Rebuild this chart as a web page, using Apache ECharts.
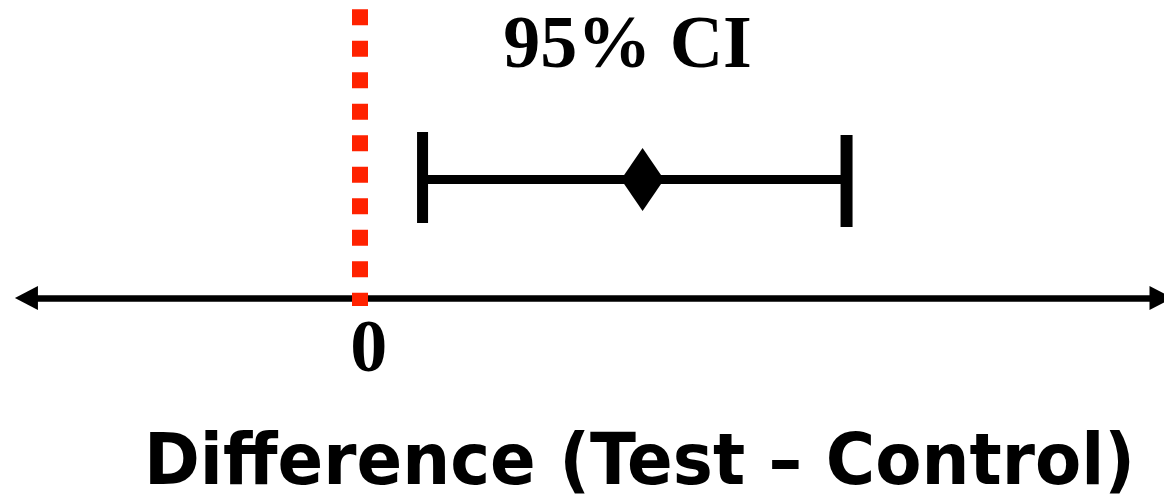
<!DOCTYPE html>
<html>
<head>
<meta charset="utf-8">
<script src="https://cdn.jsdelivr.net/npm/echarts@6/dist/echarts.min.js"></script>
<style>
html,body{margin:0;padding:0;background:#ffffff;}
#chart{width:1164px;height:501px;}
</style>
</head>
<body>
<div id="chart"></div>
<script>
// ---- chart data ----
const titleText = '95% CI';
const axisTitle = 'Difference (Test – Control)';
const ciLower = [0.71];
const pointEstimate = [3.18];
const ciUpper = [5.47];
const rowLevel = [1];
const nullValue = [0];
const xTickValues = [0];
const xTickLabels = ['0'];
const axisExtent = [-3.737, 9.0];
const refLineExtent = [2.436, -0.0675];

const chart = echarts.init(document.getElementById('chart'), null, {renderer: 'canvas'});

const errorData = ciLower.map((lo, i) => [lo, pointEstimate[i], ciUpper[i], rowLevel[i]]);
const pointData = pointEstimate.map((v, i) => [v, rowLevel[i]]);

const option = {
  backgroundColor: '#ffffff',
  animation: false,
  tooltip: {show: false},
  grid: {left: 0, right: 0.5, top: 1.75, bottom: 84.5, containLabel: false},
  xAxis: {
    type: 'value', min: -4, max: 9, interval: 1,
    axisLine: {show: false, onZero: false},
    axisTick: {show: false},
    splitLine: {show: false},
    axisLabel: {
      formatter: function (v) {
        const k = xTickValues.indexOf(v);
        return k >= 0 ? xTickLabels[k] : '';
      },
      margin: -64.5,
      verticalAlign: 'middle',
      padding: [0, 0, 0, 19],
      fontFamily: '"Liberation Serif", "Times New Roman", serif',
      fontWeight: 'bold',
      fontSize: 74,
      color: '#000000'
    }
  },
  yAxis: {type: 'value', min: -1, max: 2.5, show: false},
  graphic: [
    {
      type: 'text', x: 627.5, y: 48, silent: true,
      style: {
        text: titleText, align: 'center', verticalAlign: 'middle',
        font: 'bold 74px "Liberation Serif", "Times New Roman", serif', fill: '#000000'
      }
    },
    {
      type: 'text', x: 639.5, y: 465, scaleX: 0.936, silent: true,
      style: {
        text: axisTitle, align: 'center', verticalAlign: 'middle',
        font: 'bold 72px "DejaVu Sans", Verdana, sans-serif', fill: '#000000'
      }
    }
  ],
  series: [
    {
      type: 'custom',
      silent: true,
      z: 3,
      renderItem: function (params, api) {
        const y = api.value(3);
        const lo = api.coord([api.value(0), y]);
        const hi = api.coord([api.value(2), y]);
        return {
          type: 'group',
          children: [
            {type: 'line', shape: {x1: lo[0], y1: lo[1], x2: hi[0], y2: hi[1]},
             style: {stroke: '#000000', lineWidth: 9}},
            {type: 'line', shape: {x1: lo[0], y1: lo[1] - 47.5, x2: lo[0], y2: lo[1] + 43.5},
             style: {stroke: '#000000', lineWidth: 11}},
            {type: 'line', shape: {x1: hi[0], y1: hi[1] - 44.5, x2: hi[0], y2: hi[1] + 47.5},
             style: {stroke: '#000000', lineWidth: 12}}
          ]
        };
      },
      data: errorData
    },
    {
      type: 'scatter',
      silent: true,
      z: 4,
      symbol: 'diamond',
      symbolSize: [43, 63],
      itemStyle: {color: '#000000', opacity: 1},
      data: pointData,
      markLine: {
        silent: true,
        animation: false,
        label: {show: false},
        emphasis: {disabled: true},
        symbol: ['none', 'none'],
        data: [
          [
            {coord: [axisExtent[0], nullValue[0]], symbol: 'triangle', symbolSize: [24, 23],
             lineStyle: {color: '#000000', width: 6.5, type: 'solid', opacity: 1}},
            {coord: [axisExtent[1], nullValue[0]], symbol: 'triangle', symbolSize: [24, 23]}
          ],
          [
            {coord: [nullValue[0], refLineExtent[0]], symbol: 'none',
             lineStyle: {color: '#ff2200', width: 16, type: [16, 15.5], cap: 'butt', opacity: 1}},
            {coord: [nullValue[0], refLineExtent[1]], symbol: 'none'}
          ]
        ]
      }
    }
  ]
};
chart.setOption(option);
</script>
</body>
</html>
